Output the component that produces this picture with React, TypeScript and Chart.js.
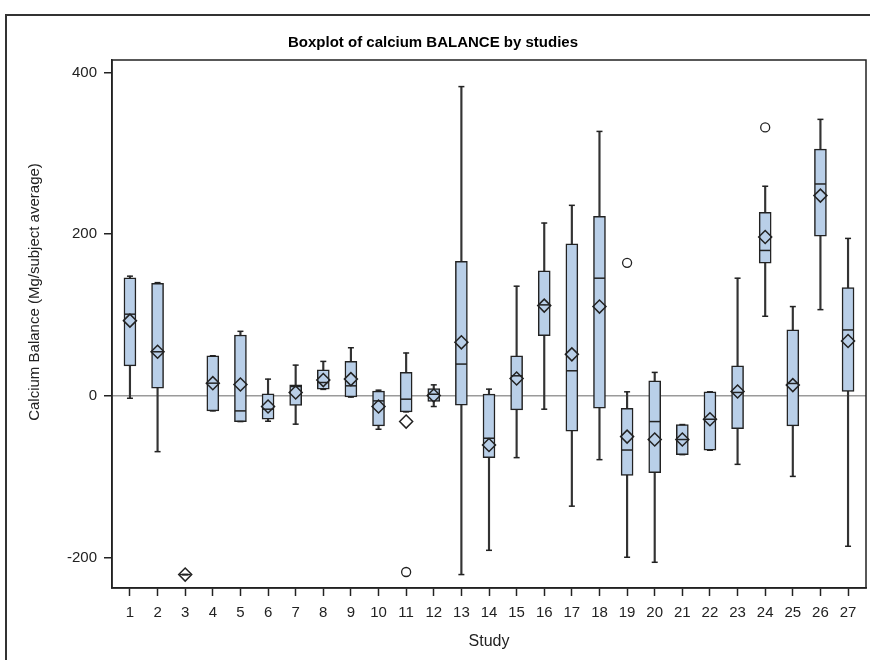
import { useEffect, useRef } from "react";
import { Chart, registerables } from "chart.js";

Chart.register(...registerables);

const FONT = "'Liberation Sans', Arial, Helvetica, sans-serif";

const titleText = "Boxplot of calcium BALANCE by studies";
const xTitle = "Study";
const yTitle = "Calcium Balance (Mg/subject average)";

const studies = [1, 2, 3, 4, 5, 6, 7, 8, 9, 10, 11, 12, 13, 14, 15, 16, 17, 18, 19, 20, 21, 22, 23, 24, 25, 26, 27];
const yTicks = [-200, 0, 200, 400];

const whiskerLow = [-3, -69, -221, -18.6, -31.8, -31.4, -35, 8, -1.5, -41.3, -19.8, -13.2, -221, -191, -76.4, -16.5, -136.4, -78.9, -199.6, -205.8, -72.7, -67.3, -84.7, 98.4, -99.6, 106.6, -186];
const q1 = [37, 9.5, -221, -18.6, -31.8, -28.9, -11.9, 8.3, -1.2, -37.2, -19.8, -7, -11.5, -76.4, -17.3, 74.4, -43.8, -15.3, -98.3, -95, -72.7, -67.3, -40.5, 164.1, -37.2, 197.6, 5.4];
const median = [101, 54.5, -221, 15.7, -18.6, -16.5, 11.6, 16.5, 12.4, -6.2, -4.1, 2, 39.3, -52.4, 24.8, 112.5, 31, 145.5, -67, -31.8, -54, -28.9, 4.2, 179.8, 15.3, 262, 81.5];
const q3 = [146, 139, -221, 49.6, 75.3, 2.5, 13.6, 32.3, 42.6, 5.8, 29, 9.1, 166.2, 2.1, 49.6, 154.6, 188, 222, -15.3, 18.6, -35.5, 5, 37.2, 227, 81.5, 305, 134];
const whiskerHigh = [148, 140, -221, 49.6, 79.8, 20.7, 38, 42.6, 59.5, 7, 53, 13.6, 382.4, 8.3, 135.6, 213.7, 235.6, 327, 5, 29, -35.5, 5, 145.5, 259.2, 110.4, 341.9, 194.7];
const mean = [93, 54.5, -221, 15.7, 14.1, -13.2, 4.2, 19.5, 20.7, -13.2, -31.8, 0.5, 66.2, -60.7, 21.5, 111.6, 51.3, 110.4, -50.4, -54, -54, -29, 5.4, 196.4, 13.3, 247.6, 67.8];
const outlierStudy = [11, 19, 24];
const outlierValue = [-217.8, 164.5, 331.9];

const framePlugin = {
  id: "plotFrame",
  afterDraw(chart: any) {
    const { ctx, chartArea } = chart;
    ctx.save();
    ctx.strokeStyle = "#222";
    ctx.lineWidth = 1.5;
    ctx.strokeRect(chartArea.left, chartArea.top, chartArea.right - chartArea.left, chartArea.bottom - chartArea.top);
    ctx.restore();
  },
};

const yTitlePlugin = {
  id: "yTitleText",
  afterDraw(chart: any) {
    const { ctx } = chart;
    ctx.save();
    ctx.translate(35, 292);
    ctx.rotate(-Math.PI / 2);
    ctx.fillStyle = "#222";
    ctx.font = `15px ${FONT}`;
    ctx.textAlign = "center";
    ctx.textBaseline = "middle";
    ctx.fillText(yTitle, 0, 0);
    ctx.restore();
  },
};

export default function App() {
  const ref = useRef<HTMLCanvasElement | null>(null);

  useEffect(() => {
    if (!ref.current) return;
    const chart = new Chart(ref.current, {
      type: "bar",
      data: {
        datasets: [
          {
            type: "bar",
            data: studies.map((s, i) => ({ x: s, y: [whiskerLow[i], whiskerHigh[i]] })),
            backgroundColor: "#333",
            borderWidth: 0,
            barThickness: 1.5,
            grouped: false,
            order: 6,
          } as any,
          {
            type: "bar",
            data: studies.map((s, i) => ({ x: s, y: [q1[i], q3[i]] })),
            backgroundColor: "#b9cfe8",
            borderColor: "#222",
            borderWidth: 1.5,
            borderSkipped: false,
            barThickness: 12,
            grouped: false,
            order: 5,
          } as any,
          {
            type: "scatter",
            data: studies.flatMap((s, i) => [
              { x: s, y: whiskerLow[i] },
              { x: s, y: whiskerHigh[i] },
            ]),
            pointStyle: "line",
            pointRadius: 3,
            pointBorderWidth: 1.5,
            pointBorderColor: "#222",
            order: 4,
          } as any,
          {
            type: "scatter",
            data: studies.map((s, i) => ({ x: s, y: median[i] })),
            pointStyle: "line",
            pointRadius: 5.5,
            pointBorderWidth: 1.5,
            pointBorderColor: "#222",
            order: 3,
          } as any,
          {
            type: "scatter",
            data: outlierStudy.map((s, i) => ({ x: s, y: outlierValue[i] })),
            pointStyle: "circle",
            pointRadius: 4.5,
            pointBorderWidth: 1.3,
            pointBorderColor: "#222",
            pointBackgroundColor: "#fff",
            order: 2,
          } as any,
          {
            type: "scatter",
            data: studies.map((s, i) => ({ x: s, y: mean[i] })),
            pointStyle: "rectRot",
            pointRadius: 6.5,
            pointBorderWidth: 1.5,
            pointBorderColor: "#222",
            pointBackgroundColor: "rgba(0,0,0,0)",
            order: 1,
          } as any,
        ],
      },
      options: {
        animation: false,
        responsive: false,
        devicePixelRatio: 1,
        events: [],
        layout: { autoPadding: false, padding: { left: 0, right: 4, top: 0, bottom: 0 } },
        plugins: {
          legend: { display: false },
          tooltip: { enabled: false },
          title: {
            display: true,
            text: titleText,
            color: "#000",
            font: { family: FONT, size: 15, weight: "bold" },
            padding: { top: 34, bottom: 8 },
          },
        },
        scales: {
          x: {
            type: "linear",
            min: 0.35,
            max: 27.65,
            offset: false,
            afterBuildTicks: (s: any) => {
              s.ticks = studies.map((v) => ({ value: v }));
            },
            afterFit: (s: any) => {
              s.height = 72;
              s.paddingLeft = 0;
              s.paddingRight = 0;
            },
            grid: {
              display: true,
              drawOnChartArea: false,
              offset: false,
              color: "#222",
              tickColor: "#222",
              tickLength: 8,
              tickWidth: 1.5,
            },
            border: { display: true, color: "#222", width: 1.5 },
            ticks: {
              autoSkip: false,
              maxRotation: 0,
              padding: 8,
              color: "#222",
              font: { family: FONT, size: 15 },
              callback: (v: any) => String(v),
            },
            title: {
              display: true,
              text: xTitle,
              color: "#222",
              font: { family: FONT, size: 16 },
              padding: { top: 0, bottom: 9 },
            },
          },
          y: {
            type: "linear",
            min: -237.6,
            max: 415.3,
            afterBuildTicks: (s: any) => {
              s.ticks = yTicks.map((v) => ({ value: v }));
            },
            afterFit: (s: any) => {
              s.width = 112;
              s.paddingTop = 0;
              s.paddingBottom = 0;
            },
            grid: {
              display: true,
              drawOnChartArea: true,
              color: (c: any) => (c.tick && c.tick.value === 0 ? "#9a9a9a" : "rgba(0,0,0,0)"),
              lineWidth: 1.5,
              tickColor: "#222",
              tickLength: 8,
              tickWidth: 1.5,
            },
            border: { display: true, color: "#222", width: 1.5 },
            ticks: {
              padding: 7,
              color: "#222",
              font: { family: FONT, size: 15 },
              callback: (v: any) => String(v),
            },
            title: { display: false },
          },
        },
      } as any,
      plugins: [framePlugin, yTitlePlugin],
    });
    return () => chart.destroy();
  }, []);

  return (
    <div style={{ position: "absolute", left: 0, top: 0, width: 870, height: 660, background: "#fff", overflow: "hidden" }}>
      <canvas ref={ref} width={870} height={660} style={{ position: "absolute", left: 0, top: 0, width: 870, height: 660 }} />
      <div
        style={{
          position: "absolute",
          left: 5,
          top: 14,
          width: 900,
          height: 700,
          borderLeft: "2px solid #333",
          borderTop: "2px solid #333",
          pointerEvents: "none",
        }}
      />
    </div>
  );
}
